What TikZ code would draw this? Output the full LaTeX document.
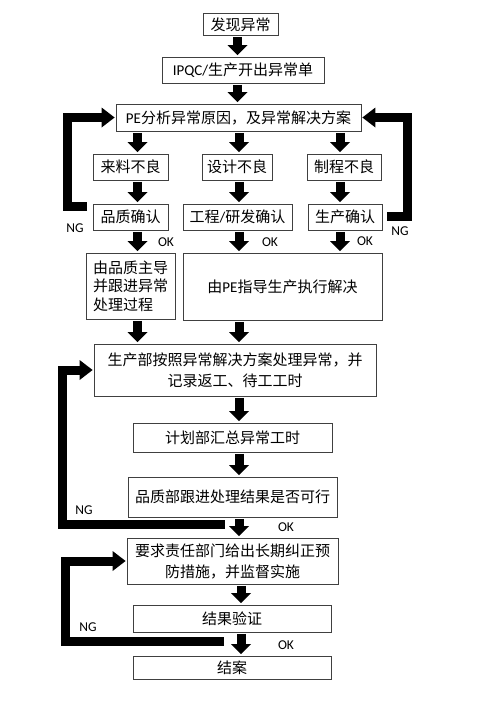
\documentclass[tikz,border=0pt]{standalone}
\usepackage{fontspec}
\setmainfont{Noto Sans CJK SC}
\newfontfamily\lat{Carlito}
\usetikzlibrary{arrows.meta}
\begin{document}
\begin{tikzpicture}[x=1pt,y=-1pt,line join=miter,
	box/.style={draw=black!75,line width=0.8pt,inner sep=0pt,align=center,font=\fontsize{15}{21}\selectfont},
	blk/.style={line width=9pt,-{Triangle[width=20pt,length=10pt,line width=0pt]},shorten <=1.5pt,shorten >=1.5pt},
	ngline/.style={line width=9pt,-{Triangle[width=20pt,length=13pt,line width=0pt]},shorten >=1pt},
	lbl/.style={font=\lat\fontsize{13.5}{15}\selectfont}]
		\path[fill=white] (0,0) rectangle (496,702);
		% boxes
		\node[box,minimum width=75pt,minimum height=22pt] (n1) at (240.5,24.5) {发现异常};
		\node[box,minimum width=162pt,minimum height=26pt] (n2) at (243,70) {{\lat IPQC/}生产开出异常单};
		\node[box,minimum width=245pt,minimum height=27pt] (n3) at (238.5,117.5) {{\lat PE}分析异常原因，及异常解决方案};
		\node[box,minimum width=75pt,minimum height=26pt] (n4) at (130.5,167) {来料不良};
		\node[box,minimum width=70pt,minimum height=26pt] (n5) at (237,167) {设计不良};
		\node[box,minimum width=74pt,minimum height=26pt] (n6) at (344,167) {制程不良};
		\node[box,minimum width=75pt,minimum height=26pt] (n7) at (130.5,217) {品质确认};
		\node[box,minimum width=109pt,minimum height=26pt] (n8) at (237.5,217) {工程{\lat /}研发确认};
		\node[box,minimum width=74pt,minimum height=26pt] (n9) at (345,217) {生产确认};
		\node[box,minimum width=89pt,minimum height=66pt,align=left,font=\fontsize{15}{18.5}\selectfont] (n10) at (130.5,286) {由品质主导\\并跟进异常\\处理过程};
		\node[box,minimum width=199pt,minimum height=67pt] (n11) at (282.5,286.5) {由{\lat PE}指导生产执行解决};
		\node[box,minimum width=282pt,minimum height=52pt] (n12) at (235,370) {生产部按照异常解决方案处理异常，并\\记录返工、待工工时};
		\node[box,minimum width=199pt,minimum height=29pt] (n13) at (232.5,437.5) {计划部汇总异常工时};
		\node[box,minimum width=209pt,minimum height=40pt] (n14) at (232.5,497) {品质部跟进处理结果是否可行};
		\node[box,minimum width=211pt,minimum height=46pt] (n15) at (232.5,561) {要求责任部门给出长期纠正预\\防措施，并监督实施};
		\node[box,minimum width=198pt,minimum height=27pt] (n16) at (232,618.5) {结果验证};
		\node[box,minimum width=198pt,minimum height=23pt] (n17) at (232,667.5) {结案};
		% columns of the arrows
		\coordinate (c0) at (237.5,0);
		\coordinate (c1) at (137.5,0);
		\coordinate (c2) at (239,0);
		\coordinate (c3) at (340,0);
		\coordinate (c4) at (241,0);
		\draw[blk] (n1.south -| c0)--(n2.north -| c0);
		\draw[blk] (n2.south -| c0)--(n3.north -| c0);
		\draw[blk] (n3.south -| c1)--(n4.north -| c1);
		\draw[blk] (n3.south -| c2)--(n5.north -| c2);
		\draw[blk] (n3.south -| c3)--(n6.north -| c3);
		\draw[blk] (n4.south -| c1)--(n7.north -| c1);
		\draw[blk] (n5.south -| c2)--(n8.north -| c2);
		\draw[blk] (n6.south -| c3)--(n9.north -| c3);
		\draw[blk] (n7.south -| c1)--(n10.north -| c1);
		\draw[blk] (n8.south -| c2)--(n11.north -| c2);
		\draw[blk] (n9.south -| c3)--(n11.north -| c3);
		\draw[blk] (n10.south -| c1)--(n12.north -| c1);
		\draw[blk] (n11.south -| c2)--(n12.north -| c2);
		\draw[blk] (n12.south -| c2)--(n13.north -| c2);
		\draw[blk] (n13.south -| c2)--(n14.north -| c2);
		\draw[blk] (n14.south -| c2)--(n15.north -| c2);
		\draw[blk] (n15.south -| c4)--(n16.north -| c4);
		\draw[blk] (n16.south -| c4)--(n17.north -| c4);
		% NG loops
		\coordinate (g1) at (87,206);
		\coordinate (g2) at (387,216);
		\coordinate (g3) at (225,524);
		\coordinate (g4) at (224,641);
		\draw[ngline] (g1)--++(-20,0)|-(n3.west);
		\draw[ngline] (g2)--++(20.5,0)|-(n3.east);
		\draw[ngline] (g3)--++(-163,0)|-(n12.west);
		\draw[ngline] (g4)--++(-158.5,0)|-(n15.west);
		% labels
		\node[lbl] (ng1) at (75,228) {NG};
		\node[lbl] (ng2) at (400,231) {NG};
		\node[lbl] (ng3) at (84,510) {NG};
		\node[lbl] (ng4) at (88,627) {NG};
		\node[lbl] (ok1) at (166,242) {OK};
		\node[lbl] (ok2) at (270,242) {OK};
		\node[lbl] (ok3) at (365,241) {OK};
		\node[lbl] (ok4) at (286,527) {OK};
		\node[lbl] (ok5) at (286,645) {OK};
\end{tikzpicture}
\end{document}
